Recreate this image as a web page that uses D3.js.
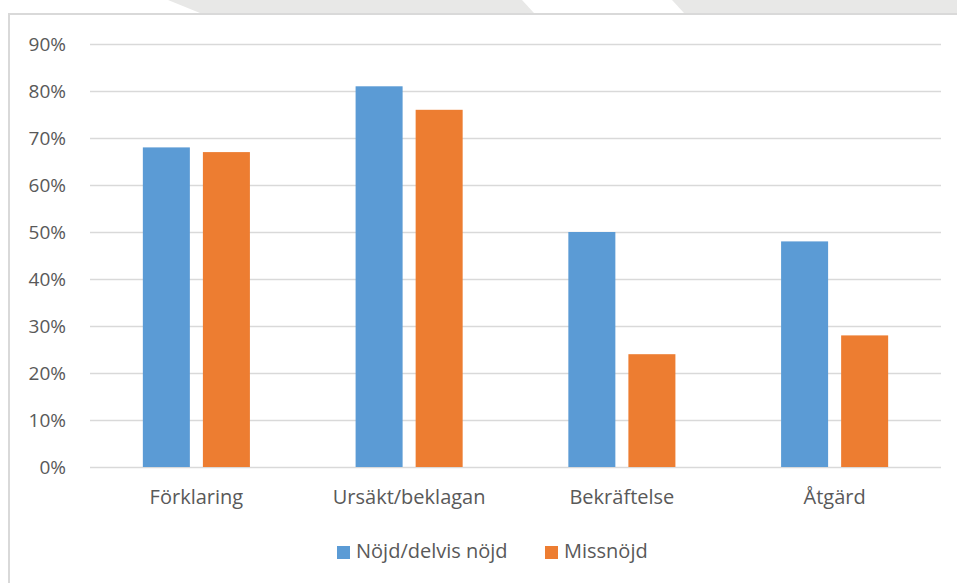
<!DOCTYPE html>
<html><head><meta charset="utf-8">
<script src="https://cdn.jsdelivr.net/npm/d3@7"></script>
<style>body{margin:0;background:#fff}svg{display:block}</style>
</head><body>
<svg id="c" width="957" height="583"></svg>
<script>
const categories = ["Förklaring", "Ursäkt/beklagan", "Bekräftelse", "Åtgärd"];
const seriesNames = ["Nöjd/delvis nöjd", "Missnöjd"];
const nojd = [0.68, 0.81, 0.50, 0.48];
const missnojd = [0.67, 0.76, 0.24, 0.28];
const yTicks = [0, 0.1, 0.2, 0.3, 0.4, 0.5, 0.6, 0.7, 0.8, 0.9];
const colors = ["#5b9bd5", "#ed7d31"];

const svg = d3.select("#c");
const font = "'Open Sans', sans-serif";
const textColor = "#595959";

// decorative top band
const band = svg.append("g");
band.append("polygon").attr("points", "168,0 522,0 534,13 200,13").attr("fill", "#e8e8e7");
band.append("polygon").attr("points", "672,0 957,0 957,13 684,13").attr("fill", "#e8e8e7");
// frame
svg.append("line").attr("x1", 9).attr("x2", 957).attr("y1", 14).attr("y2", 14).attr("stroke", "#d9d9d9").attr("stroke-width", 2);
svg.append("line").attr("x1", 9).attr("x2", 9).attr("y1", 13).attr("y2", 583).attr("stroke", "#d9d9d9").attr("stroke-width", 2);

const mLeft = 90, mRight = 941, mTop = 44, mBottom = 467;
const y = d3.scaleLinear().domain([0, 0.9]).range([mBottom, mTop]);
const x0 = d3.scaleBand().domain(categories).range([mLeft, mRight]);
const x1 = d3.scaleBand().domain([0, 1]).range([0, x0.bandwidth()]).paddingInner(0.217).paddingOuter(0.88);

// gridlines
const yAxis = d3.axisLeft(y).tickValues(yTicks).tickSize(-(mRight - mLeft)).tickFormat(d3.format(".0%")).tickPadding(24);
const ga = svg.append("g").attr("transform", `translate(${mLeft},0)`).call(yAxis);
ga.select(".domain").remove();
ga.selectAll(".tick line").attr("stroke", "#d9d9d9").attr("stroke-width", 1.5);
ga.selectAll(".tick text").attr("fill", textColor).style("font-family", font).style("font-size", "19px");

// bars
const data = categories.map((c, i) => ({c, vals: [nojd[i], missnojd[i]]}));
const g = svg.append("g");
data.forEach(d => {
  d.vals.forEach((v, j) => {
    g.append("rect")
      .attr("x", x0(d.c) + x1(j))
      .attr("y", y(v))
      .attr("width", x1.bandwidth())
      .attr("height", y(0) - y(v))
      .attr("fill", colors[j]);
  });
});

// x axis labels
const xAxis = d3.axisBottom(x0).tickSize(0).tickPadding(23);
const gx = svg.append("g").attr("transform", `translate(0,${mBottom})`).call(xAxis);
gx.select(".domain").remove();
gx.selectAll(".tick text").attr("fill", textColor).style("font-family", font).style("font-size", "20px");

// legend
const legend = svg.append("g");
const legX = [337, 545];
seriesNames.forEach((s, j) => {
  legend.append("rect").attr("x", legX[j]).attr("y", 546).attr("width", 13).attr("height", 13).attr("fill", colors[j]);
  legend.append("text").attr("x", legX[j] + 19).attr("y", 558).text(s)
    .attr("fill", textColor).style("font-family", font).style("font-size", "20px");
});
</script>
</body></html>
